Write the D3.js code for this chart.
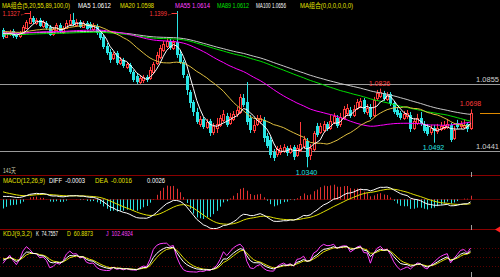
<!DOCTYPE html>
<html>
<head>
<meta charset="utf-8">
<script src="https://cdn.jsdelivr.net/npm/d3@7"></script>
<style>
  body { margin: 0; background: #000; }
  svg { display: block; }
</style>
</head>
<body>
<script>
// daily candles, 141 days
var opens = [
  1.1189, 1.1145, 1.1164, 1.1182, 1.1158, 1.1152, 1.1170, 1.1201, 1.1232, 1.1263,
  1.1232, 1.1250, 1.1213, 1.1232, 1.1207, 1.1164, 1.1189, 1.1219, 1.1176, 1.1201,
  1.1226, 1.1250, 1.1219, 1.1238, 1.1207, 1.1232, 1.1226, 1.1195, 1.1213, 1.1176,
  1.1145, 1.1090, 1.1053, 1.1016, 1.1046, 1.0985, 1.1003, 1.0960, 1.0972, 1.0929,
  1.0904, 1.0867, 1.0880, 1.0898, 1.0892, 1.0929, 1.0985, 1.1022, 1.1065, 1.1090,
  1.1121, 1.1077, 1.1114, 1.1040, 1.0991, 1.0904, 1.0805, 1.0744, 1.0682, 1.0608,
  1.0639, 1.0589, 1.0626, 1.0558, 1.0583, 1.0602, 1.0633, 1.0657, 1.0614, 1.0639,
  1.0670, 1.0682, 1.0768, 1.0744, 1.0645, 1.0571, 1.0608, 1.0626, 1.0633, 1.0534,
  1.0509, 1.0435, 1.0423, 1.0435, 1.0441, 1.0459, 1.0435, 1.0466, 1.0416, 1.0447,
  1.0472, 1.0503, 1.0416, 1.0453, 1.0595, 1.0558, 1.0571, 1.0608, 1.0583, 1.0620,
  1.0645, 1.0608, 1.0645, 1.0676, 1.0694, 1.0663, 1.0707, 1.0719, 1.0756, 1.0682,
  1.0713, 1.0663, 1.0768, 1.0781, 1.0799, 1.0762, 1.0793, 1.0737, 1.0694, 1.0676,
  1.0645, 1.0657, 1.0663, 1.0583, 1.0614, 1.0645, 1.0608, 1.0589, 1.0558, 1.0583,
  1.0564, 1.0577, 1.0583, 1.0589, 1.0602, 1.0521, 1.0614, 1.0595, 1.0589, 1.0608, 1.0583
];
var highs = [
  1.1201, 1.1182, 1.1189, 1.1195, 1.1170, 1.1182, 1.1219, 1.1250, 1.1327, 1.1275,
  1.1263, 1.1263, 1.1250, 1.1244, 1.1219, 1.1207, 1.1232, 1.1232, 1.1213, 1.1250,
  1.1287, 1.1294, 1.1257, 1.1250, 1.1244, 1.1244, 1.1238, 1.1232, 1.1226, 1.1189,
  1.1158, 1.1108, 1.1071, 1.1053, 1.1059, 1.1022, 1.1016, 1.0991, 1.0985, 1.0941,
  1.0923, 1.0904, 1.0911, 1.0911, 1.0960, 1.0991, 1.1053, 1.1096, 1.1121, 1.1139,
  1.1133, 1.1127, 1.1399, 1.1065, 1.1003, 1.0917, 1.0818, 1.0756, 1.0707, 1.0657,
  1.0651, 1.0639, 1.0639, 1.0614, 1.0645, 1.0663, 1.0694, 1.0676, 1.0676, 1.0688,
  1.0713, 1.0793, 1.0793, 1.0867, 1.0663, 1.0633, 1.0663, 1.0663, 1.0651, 1.0552,
  1.0527, 1.0453, 1.0472, 1.0478, 1.0484, 1.0472, 1.0478, 1.0478, 1.0478, 1.0620,
  1.0534, 1.0521, 1.0484, 1.0564, 1.0614, 1.0614, 1.0626, 1.0620, 1.0663, 1.0676,
  1.0663, 1.0676, 1.0719, 1.0731, 1.0713, 1.0725, 1.0762, 1.0768, 1.0768, 1.0731,
  1.0731, 1.0775, 1.0818, 1.0826, 1.0812, 1.0805, 1.0805, 1.0750, 1.0713, 1.0688,
  1.0688, 1.0694, 1.0682, 1.0645, 1.0670, 1.0682, 1.0626, 1.0608, 1.0602, 1.0602,
  1.0608, 1.0620, 1.0626, 1.0639, 1.0614, 1.0595, 1.0633, 1.0626, 1.0633, 1.0620, 1.0698
];
var lows = [
  1.1133, 1.1139, 1.1152, 1.1139, 1.1133, 1.1139, 1.1164, 1.1195, 1.1226, 1.1226,
  1.1219, 1.1207, 1.1201, 1.1189, 1.1152, 1.1152, 1.1182, 1.1170, 1.1164, 1.1195,
  1.1213, 1.1213, 1.1207, 1.1201, 1.1201, 1.1189, 1.1189, 1.1182, 1.1158, 1.1127,
  1.1071, 1.1034, 1.0985, 1.1003, 1.0972, 1.0972, 1.0954, 1.0948, 1.0917, 1.0867,
  1.0855, 1.0855, 1.0861, 1.0867, 1.0880, 1.0917, 1.0972, 1.1009, 1.1053, 1.1077,
  1.1065, 1.1065, 1.1016, 1.0978, 1.0892, 1.0787, 1.0707, 1.0657, 1.0608, 1.0589,
  1.0577, 1.0577, 1.0534, 1.0540, 1.0552, 1.0589, 1.0620, 1.0589, 1.0602, 1.0626,
  1.0651, 1.0670, 1.0713, 1.0602, 1.0552, 1.0552, 1.0595, 1.0608, 1.0496, 1.0459,
  1.0398, 1.0379, 1.0404, 1.0416, 1.0429, 1.0410, 1.0423, 1.0385, 1.0404, 1.0435,
  1.0453, 1.0340, 1.0385, 1.0441, 1.0527, 1.0546, 1.0558, 1.0564, 1.0571, 1.0608,
  1.0583, 1.0589, 1.0633, 1.0657, 1.0645, 1.0651, 1.0694, 1.0707, 1.0670, 1.0663,
  1.0639, 1.0651, 1.0750, 1.0768, 1.0750, 1.0750, 1.0719, 1.0670, 1.0651, 1.0633,
  1.0633, 1.0639, 1.0558, 1.0571, 1.0602, 1.0595, 1.0552, 1.0534, 1.0540, 1.0492,
  1.0546, 1.0564, 1.0571, 1.0577, 1.0496, 1.0509, 1.0577, 1.0577, 1.0577, 1.0558, 1.0571
];
var closes = [
  1.1145, 1.1170, 1.1176, 1.1152, 1.1145, 1.1170, 1.1207, 1.1238, 1.1263, 1.1238,
  1.1250, 1.1213, 1.1238, 1.1201, 1.1158, 1.1195, 1.1219, 1.1182, 1.1201, 1.1232,
  1.1250, 1.1226, 1.1238, 1.1207, 1.1232, 1.1195, 1.1201, 1.1219, 1.1170, 1.1139,
  1.1084, 1.1046, 1.1003, 1.1040, 1.0985, 1.1003, 1.0966, 1.0978, 1.0929, 1.0880,
  1.0867, 1.0892, 1.0898, 1.0880, 1.0941, 1.0978, 1.1034, 1.1077, 1.1102, 1.1121,
  1.1077, 1.1114, 1.1034, 1.0991, 1.0911, 1.0818, 1.0737, 1.0682, 1.0620, 1.0639,
  1.0589, 1.0620, 1.0552, 1.0595, 1.0608, 1.0645, 1.0670, 1.0602, 1.0651, 1.0670,
  1.0694, 1.0775, 1.0725, 1.0620, 1.0571, 1.0602, 1.0645, 1.0645, 1.0521, 1.0472,
  1.0416, 1.0398, 1.0453, 1.0459, 1.0466, 1.0429, 1.0459, 1.0404, 1.0459, 1.0484,
  1.0515, 1.0404, 1.0459, 1.0552, 1.0540, 1.0595, 1.0608, 1.0577, 1.0626, 1.0657,
  1.0595, 1.0651, 1.0700, 1.0707, 1.0657, 1.0700, 1.0744, 1.0750, 1.0682, 1.0707,
  1.0651, 1.0756, 1.0799, 1.0805, 1.0762, 1.0787, 1.0731, 1.0682, 1.0663, 1.0645,
  1.0670, 1.0676, 1.0577, 1.0626, 1.0645, 1.0608, 1.0564, 1.0546, 1.0583, 1.0564,
  1.0583, 1.0595, 1.0602, 1.0608, 1.0509, 1.0571, 1.0589, 1.0608, 1.0602, 1.0577, 1.0676
];

// moving averages and the average level before the first visible day
var maPeriods = [5, 20, 55, 89, 100];
var maColors = ["#ffffff", "#e0c040", "#ff00ff", "#00e000", "#c8c8c8"];
var maPrior = [1.1170, 1.1180, 1.1170, 1.1160, 1.1170];

// MACD(12,26,9) state carried in from before the window: ema12, ema26, dea
var macdSeed = [1.1166, 1.1150, 0.0037];

// horizontal drawn lines and marked highs / lows (candle index)
var hLines = [1.0855, 1.0441];
var highMarks = [8, 52, 113, 140];
var lowMarks = [91, 129];

// header texts
var maHeader = ["MA组合(5,20,55,89,100,0)", "MA5 1.0612", "MA20 1.0598", "MA55 1.0614", "MA89 1.0612", "MA100 1.0656", "MA组合(0,0,0,0,0,0)"];
var macdHeader = ["MACD(12,26,9)", "DIFF  -0.0003", "DEA  -0.0016", "0.0026"];
var kdjHeader = ["KDJ(9,3,2)", "K  74.7557", "D  60.8873", "J  102.4924"];
var dayCount = "141天";

var W = 500, H = 277;
var UP = "#ff3b3b", DOWN = "#28e4e4", YEL = "#e0e000", MAG = "#ff40ff";
var FONT = "'Liberation Sans','Noto Sans CJK SC',sans-serif";

var svg = d3.select("body").append("svg")
    .attr("width", W).attr("height", H)
    .style("background", "#000");

var n = closes.length;
var idx = d3.range(n);

var x = d3.scaleLinear().domain([0, n - 1]).range([3, 470.6]);
var y = d3.scaleLinear().domain([1.0311, 1.1312]).range([172, 10]);
var yM = d3.scaleLinear().domain([-0.0125, 0.0095]).range([229, 177]);
var yK = d3.scaleLinear().domain([0, 100]).range([271.6, 242.7]);

function px(i) { return Math.round(x(i)) + 0.5; }

// ---- indicators ----
function ma(period, prior) {
    return closes.map(function(c, i) {
        var s = 0, k = 0;
        for (var j = Math.max(0, i - period + 1); j <= i; j++) { s += closes[j]; k++; }
        return (s + (period - k) * prior) / period;
    });
}
var maSeries = maPeriods.map(function(p, k) { return ma(p, maPrior[k]); });

var e12 = macdSeed[0], e26 = macdSeed[1], dea = macdSeed[2];
var diffS = [], deaS = [], barS = [];
closes.forEach(function(c) {
    e12 = e12 + (c - e12) * 2 / 13;
    e26 = e26 + (c - e26) * 2 / 27;
    var d = e12 - e26;
    dea = dea + (d - dea) * 2 / 10;
    diffS.push(d); deaS.push(dea); barS.push(2 * (d - dea));
});

var kS = [], dS = [], jS = [];
var kp = 50, dp = 50;
idx.forEach(function(i) {
    var from = Math.max(0, i - 8);
    var hh = d3.max(highs.slice(from, i + 1)), ll = d3.min(lows.slice(from, i + 1));
    var rsv = hh === ll ? 50 : (closes[i] - ll) / (hh - ll) * 100;
    kp = (2 * kp + rsv) / 3;
    dp = (dp + kp) / 2;
    kS.push(kp); dS.push(dp); jS.push(3 * kp - 2 * dp);
});

// ---- clip regions ----
var defs = svg.append("defs");
defs.append("clipPath").attr("id", "cMain").append("rect").attr("x", 0).attr("y", 11).attr("width", W).attr("height", 163);
defs.append("clipPath").attr("id", "cMacd").append("rect").attr("x", 0).attr("y", 184).attr("width", W).attr("height", 45);
defs.append("clipPath").attr("id", "cKdj").append("rect").attr("x", 0).attr("y", 237).attr("width", W).attr("height", 40);

// ---- frame lines ----
svg.selectAll(".sep").data([175.5, 229.5]).enter().append("line")
    .attr("x1", 0).attr("x2", W).attr("y1", function(d) { return d; }).attr("y2", function(d) { return d; })
    .attr("stroke", "#8a0000");
svg.append("line").attr("x1", 0).attr("x2", W).attr("y1", Math.round(yM(0)) + 0.5).attr("y2", Math.round(yM(0)) + 0.5)
    .attr("stroke", "#5a0000");
svg.selectAll(".kg").data([20, 50, 80]).enter().append("line")
    .attr("x1", 0).attr("x2", W)
    .attr("y1", function(d) { return Math.round(yK(d)) + 0.5; }).attr("y2", function(d) { return Math.round(yK(d)) + 0.5; })
    .attr("stroke", "#5a0000").attr("stroke-dasharray", "1,2");

// drawn horizontal lines
svg.selectAll(".hl").data(hLines).enter().append("line")
    .attr("x1", 0).attr("x2", W)
    .attr("y1", function(d) { return Math.round(y(d)) + 0.5; }).attr("y2", function(d) { return Math.round(y(d)) + 0.5; })
    .attr("stroke", "#9a9a9a");
svg.selectAll(".hlt").data(hLines).enter().append("text")
    .attr("x", 499).attr("y", function(d) { return Math.round(y(d)) - 2; })
    .attr("text-anchor", "end").attr("fill", "#d0d0d0")
    .style("font", "7.5px " + FONT).text(function(d) { return d.toFixed(4); });

// ---- candles ----
var gMain = svg.append("g").attr("clip-path", "url(#cMain)");
var candles = gMain.selectAll(".c").data(idx).enter().append("g");
candles.append("line")
    .attr("x1", px).attr("x2", px)
    .attr("y1", function(i) { return y(highs[i]); })
    .attr("y2", function(i) { return y(lows[i]); })
    .attr("stroke", function(i) { return closes[i] >= opens[i] ? UP : DOWN; });
candles.append("rect")
    .attr("x", function(i) { return closes[i] >= opens[i] ? px(i) - 1 : px(i) - 1.5; })
    .attr("y", function(i) { var t = Math.round(y(Math.max(opens[i], closes[i]))); return closes[i] >= opens[i] ? t + 0.5 : t; })
    .attr("width", function(i) { return closes[i] >= opens[i] ? 2 : 3; })
    .attr("height", function(i) {
        var t = Math.round(y(Math.max(opens[i], closes[i]))), b = Math.round(y(Math.min(opens[i], closes[i])));
        return Math.max(b - t, 1);
    })
    .attr("fill", function(i) { return closes[i] >= opens[i] ? "#000" : DOWN; })
    .attr("stroke", function(i) { return closes[i] >= opens[i] ? UP : "none"; });

// moving average lines
var maLine = d3.line().x(function(d, i) { return x(i); }).y(function(d) { return y(d); });
maSeries.slice().reverse().forEach(function(s, k) {
    gMain.append("path").datum(s).attr("d", maLine)
        .attr("fill", "none").attr("stroke", maColors[maSeries.length - 1 - k]).attr("stroke-width", 1);
});

// high / low marks
highMarks.forEach(function(i) {
    var yy = y(highs[i]);
    var label = highs[i].toFixed(4);
    if (yy < 16) {
        svg.append("text").attr("x", px(i) - 28).attr("y", 15.5)
            .attr("textLength", 23).attr("lengthAdjust", "spacingAndGlyphs")
            .attr("fill", UP).style("font", "6.5px " + FONT).text(label + "←");
        svg.append("line").attr("x1", px(i) - 6).attr("x2", px(i)).attr("y1", 13.5).attr("y2", 13.5).attr("stroke", UP);
    } else {
        svg.append("text").attr("x", px(i) - 1).attr("y", yy - 3).attr("text-anchor", "middle")
            .attr("fill", UP).style("font", "7px " + FONT).text(label);
    }
});
lowMarks.forEach(function(i) {
    svg.append("text").attr("x", px(i) - 1).attr("y", y(lows[i]) + 7.5).attr("text-anchor", "middle")
        .attr("fill", DOWN).style("font", "7px " + FONT).text(lows[i].toFixed(4));
});

// last price tick
svg.append("line").attr("x1", 480).attr("x2", W)
    .attr("y1", Math.round(y(closes[n - 1])) + 0.5).attr("y2", Math.round(y(closes[n - 1])) + 0.5)
    .attr("stroke", "#e08a00");

// ---- MACD panel ----
var gM = svg.append("g").attr("clip-path", "url(#cMacd)");
gM.selectAll(".b").data(idx).enter().append("line")
    .attr("x1", px).attr("x2", px)
    .attr("y1", yM(0)).attr("y2", function(i) { return yM(barS[i]); })
    .attr("stroke", function(i) { return barS[i] >= 0 ? "#e03030" : DOWN; })
    .attr("stroke-width", 1);
var mLine = d3.line().x(function(d, i) { return x(i); }).y(function(d) { return yM(d); });
gM.append("path").datum(deaS).attr("d", mLine).attr("fill", "none").attr("stroke", YEL);
gM.append("path").datum(diffS).attr("d", mLine).attr("fill", "none").attr("stroke", "#ffffff");

// ---- KDJ panel ----
var gK = svg.append("g").attr("clip-path", "url(#cKdj)");
var kLine = d3.line().x(function(d, i) { return x(i); }).y(function(d) { return yK(d); });
gK.append("path").datum(jS).attr("d", kLine).attr("fill", "none").attr("stroke", MAG);
gK.append("path").datum(dS).attr("d", kLine).attr("fill", "none").attr("stroke", YEL);
gK.append("path").datum(kS).attr("d", kLine).attr("fill", "none").attr("stroke", "#ffffff");

// last day cursor ticks
[[172, 177], [225, 230], [272, 277]].forEach(function(s) {
    svg.append("line").attr("x1", px(n - 1)).attr("x2", px(n - 1)).attr("y1", s[0]).attr("y2", s[1]).attr("stroke", "#a0a0a0");
});
svg.append("path").attr("d", "M495,229.5L500,226.5L500,232.5Z").attr("fill", "#ff2020");

// ---- texts ----
function label(t, xx, yy, w, col, size) {
    svg.append("text").attr("x", xx).attr("y", yy).attr("fill", col)
        .attr("textLength", w).attr("lengthAdjust", "spacingAndGlyphs")
        .style("white-space", "pre")
        .style("font", (size || 8) + "px " + FONT).text(t);
}
var maPos = [[2, 68], [78, 33], [120, 34], [175, 35], [217, 32], [256, 30], [300, 53]];
var maCol = [YEL, "#ffffff", YEL, MAG, "#00e000", "#ffffff", YEL];
maHeader.forEach(function(t, k) { label(t, maPos[k][0], 8, maPos[k][1], maCol[k], 6.5); });

label(dayCount, 3, 172.5, 13, "#d0d0b0", 7);

var mPos = [[3, 42], [49, 36], [95, 37], [147, 18]];
var mCol = [YEL, "#ffffff", YEL, "#ffffff"];
macdHeader.forEach(function(t, k) { label(t, mPos[k][0], 182.5, mPos[k][1], mCol[k], 7); });

var kPos = [[3, 29], [36, 22], [67, 26], [106, 27]];
var kCol = [YEL, "#ffffff", YEL, MAG];
kdjHeader.forEach(function(t, k) { label(t, kPos[k][0], 235.5, kPos[k][1], kCol[k], 7); });
</script>
</body>
</html>
